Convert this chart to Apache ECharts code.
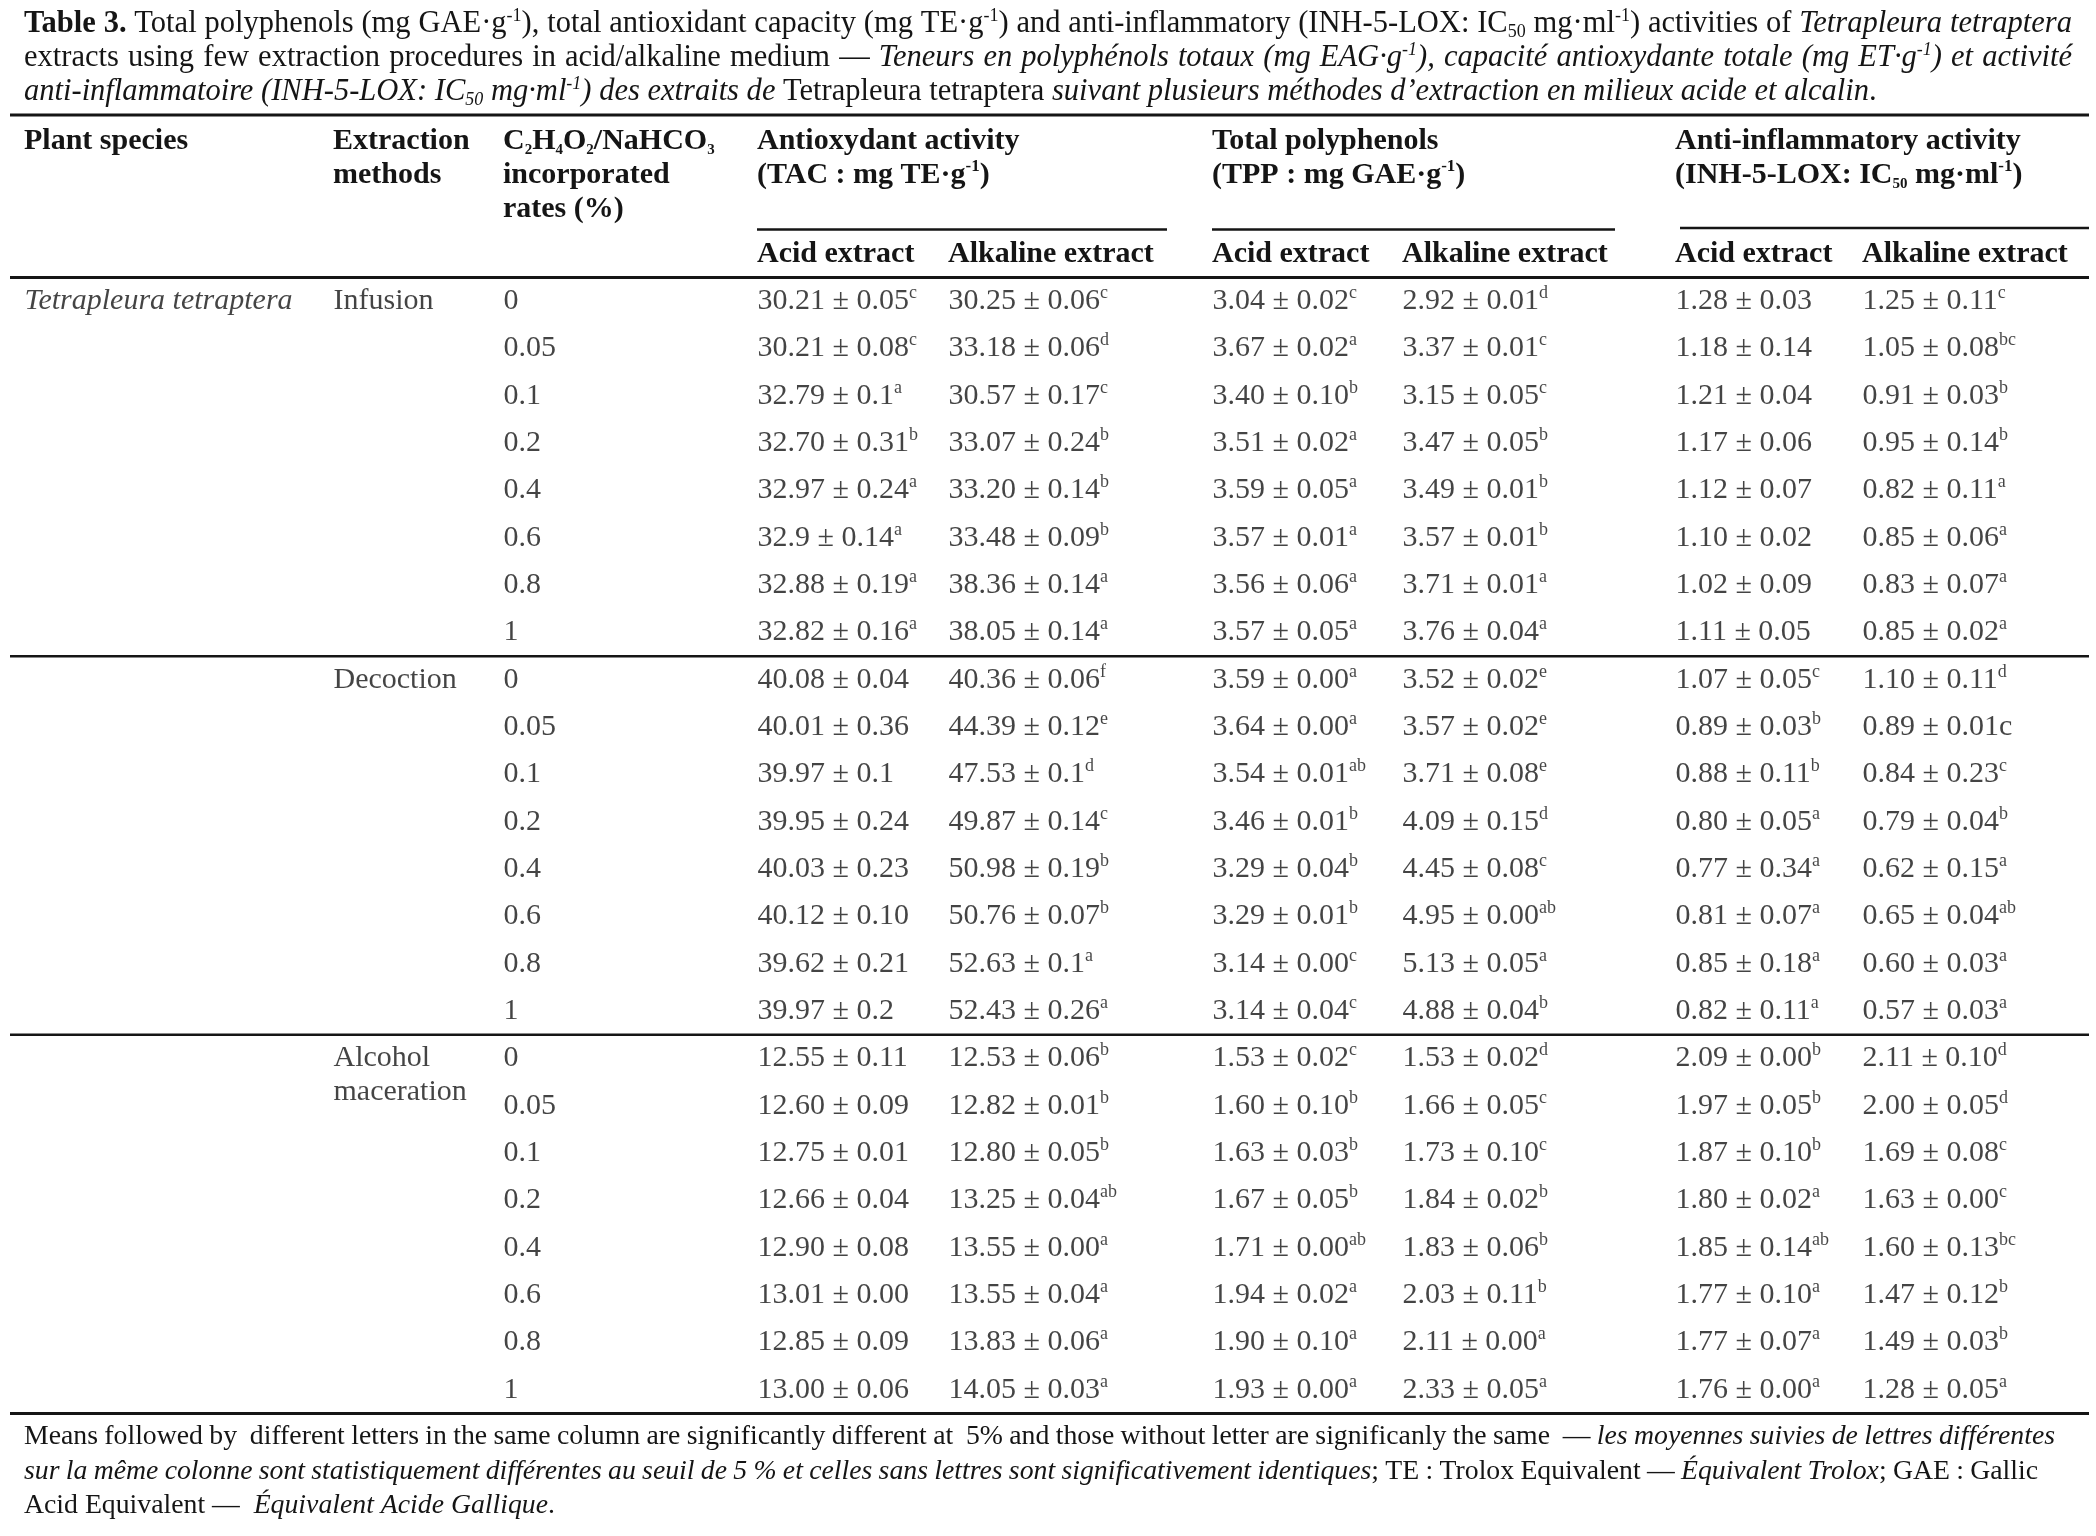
<!DOCTYPE html>
<html><head><meta charset="utf-8">
<script src="https://cdn.jsdelivr.net/npm/echarts@6/dist/echarts.min.js"></script>
<style>html,body{margin:0;padding:0;background:#fff}#c{width:2096px;height:1536px}</style>
</head><body><div id="c"></div>
<script>
// ---------------- DATA ----------------
const species = ['Tetrapleura tetraptera'];
const methods = ['Infusion', 'Decoction', 'Alcohol\nmaceration'];
const rates = ['0', '0.05', '0.1', '0.2', '0.4', '0.6', '0.8', '1'];

const tacAcidMean = ['30.21','30.21','32.79','32.70','32.97','32.9','32.88','32.82','40.08','40.01','39.97','39.95','40.03','40.12','39.62','39.97','12.55','12.60','12.75','12.66','12.90','13.01','12.85','13.00'];
const tacAcidSd   = ['0.05','0.08','0.1','0.31','0.24','0.14','0.19','0.16','0.04','0.36','0.1','0.24','0.23','0.10','0.21','0.2','0.11','0.09','0.01','0.04','0.08','0.00','0.09','0.06'];
const tacAcidSig  = ['c','c','a','b','a','a','a','a','','','','','','','','','','','','','','','',''];

const tacAlkMean = ['30.25','33.18','30.57','33.07','33.20','33.48','38.36','38.05','40.36','44.39','47.53','49.87','50.98','50.76','52.63','52.43','12.53','12.82','12.80','13.25','13.55','13.55','13.83','14.05'];
const tacAlkSd   = ['0.06','0.06','0.17','0.24','0.14','0.09','0.14','0.14','0.06','0.12','0.1','0.14','0.19','0.07','0.1','0.26','0.06','0.01','0.05','0.04','0.00','0.04','0.06','0.03'];
const tacAlkSig  = ['c','d','c','b','b','b','a','a','f','e','d','c','b','b','a','a','b','b','b','ab','a','a','a','a'];

const tppAcidMean = ['3.04','3.67','3.40','3.51','3.59','3.57','3.56','3.57','3.59','3.64','3.54','3.46','3.29','3.29','3.14','3.14','1.53','1.60','1.63','1.67','1.71','1.94','1.90','1.93'];
const tppAcidSd   = ['0.02','0.02','0.10','0.02','0.05','0.01','0.06','0.05','0.00','0.00','0.01','0.01','0.04','0.01','0.00','0.04','0.02','0.10','0.03','0.05','0.00','0.02','0.10','0.00'];
const tppAcidSig  = ['c','a','b','a','a','a','a','a','a','a','ab','b','b','b','c','c','c','b','b','b','ab','a','a','a'];

const tppAlkMean = ['2.92','3.37','3.15','3.47','3.49','3.57','3.71','3.76','3.52','3.57','3.71','4.09','4.45','4.95','5.13','4.88','1.53','1.66','1.73','1.84','1.83','2.03','2.11','2.33'];
const tppAlkSd   = ['0.01','0.01','0.05','0.05','0.01','0.01','0.01','0.04','0.02','0.02','0.08','0.15','0.08','0.00','0.05','0.04','0.02','0.05','0.10','0.02','0.06','0.11','0.00','0.05'];
const tppAlkSig  = ['d','c','c','b','b','b','a','a','e','e','e','d','c','ab','a','b','d','c','c','b','b','b','a','a'];

const inhAcidMean = ['1.28','1.18','1.21','1.17','1.12','1.10','1.02','1.11','1.07','0.89','0.88','0.80','0.77','0.81','0.85','0.82','2.09','1.97','1.87','1.80','1.85','1.77','1.77','1.76'];
const inhAcidSd   = ['0.03','0.14','0.04','0.06','0.07','0.02','0.09','0.05','0.05','0.03','0.11','0.05','0.34','0.07','0.18','0.11','0.00','0.05','0.10','0.02','0.14','0.10','0.07','0.00'];
const inhAcidSig  = ['','','','','','','','','c','b','b','a','a','a','a','a','b','b','b','a','ab','a','a','a'];

const inhAlkMean = ['1.25','1.05','0.91','0.95','0.82','0.85','0.83','0.85','1.10','0.89','0.84','0.79','0.62','0.65','0.60','0.57','2.11','2.00','1.69','1.63','1.60','1.47','1.49','1.28'];
const inhAlkSd   = ['0.11','0.08','0.03','0.14','0.11','0.06','0.07','0.02','0.11','0.01c','0.23','0.04','0.15','0.04','0.03','0.03','0.10','0.05','0.08','0.00','0.13','0.12','0.03','0.05'];
const inhAlkSig  = ['c','bc','b','b','a','a','a','a','d','','c','b','a','ab','a','a','d','d','c','c','bc','b','b','a'];

// header texts
const hdrSpecies = ['Plant species'];
const hdrMethod = ['Extraction', 'methods'];
const hdrRate = [[['b','C'],['bsub','2'],['b','H'],['bsub','4'],['b','O'],['bsub','2'],['b','/NaHCO'],['bsub','3']], [['b','incorporated']], [['b','rates (%)']]];
const hdrGroups = [
  [[['b','Antioxydant activity']], [['b','(TAC : mg TE·g'],['bsup','-1'],['b',')']]],
  [[['b','Total polyphenols']], [['b','(TPP : mg GAE·g'],['bsup','-1'],['b',')']]],
  [[['b','Anti-inflammatory activity']], [['b','(INH-5-LOX: IC'],['bsub','50'],['b',' mg·ml'],['bsup','-1'],['b',')']]]
];
const hdrSub = ['Acid extract', 'Alkaline extract'];

const titleLines = [
  [['b','Table 3.'],['r',' Total polyphenols (mg GAE·g'],['sup','-1'],['r','), total antioxidant capacity (mg TE·g'],['sup','-1'],['r',') and anti-inflammatory (INH-5-LOX: IC'],['sub','50'],['r',' mg·ml'],['sup','-1'],['r',') activities of '],['i','Tetrapleura tetraptera']],
  [['r','extracts using few extraction procedures in acid/alkaline medium — '],['i','Teneurs en polyphénols totaux (mg EAG·g'],['supi','-1'],['i','), capacité antioxydante totale (mg ET·g'],['supi','-1'],['i',') et activité']],
  [['i','anti-inflammatoire (INH-5-LOX: IC'],['subi','50'],['i',' mg·ml'],['supi','-1'],['i',') des extraits de '],['r','Tetrapleura tetraptera'],['i',' suivant plusieurs méthodes d’extraction en milieux acide et alcalin'],['r','.']]
];
const footLines = [
  [['r','Means followed by  different letters in the same column are significantly different at  5% and those without letter are significanly the same  — '],['i','les moyennes suivies de lettres différentes']],
  [['i','sur la même colonne sont statistiquement différentes au seuil de 5 % et celles sans lettres sont significativement identiques'],['r','; TE : Trolox Equivalent — '],['i','Équivalent Trolox'],['r','; GAE : Gallic']],
  [['r','Acid Equivalent —  '],['i','Équivalent Acide Gallique'],['r','.']]
];

// ---------------- LAYOUT / STYLE ----------------
const FF = "'Liberation Serif', 'Times New Roman', serif";
const INK = '#151515';
const GRID_TOP = 277.5, GRID_H = 1136;
const colLeft = [24, 333, 503, 757, 948, 1212, 1402, 1675, 1862];
const RULE_L = 10, RULE_R = 2089;

const mctx = document.createElement('canvas').getContext('2d');
function fontStr(s) { return `${s.fontStyle} ${s.fontWeight} ${s.fontSize}px ${s.fontFamily}`; }
function mw(t, s) { mctx.font = fontStr(s); return mctx.measureText(t).width; }
function zs(size, weight, italic, extra) {
  return Object.assign({fontFamily: FF, fontSize: size, fontWeight: weight || 'normal', fontStyle: italic ? 'italic' : 'normal', fill: INK}, extra || {});
}
function textRich(size) {
  const sp = Math.round(size * 0.58), sb = Math.round(size * 0.6);
  return {
    r: zs(size, 'normal', false, {lineHeight: 34}),
    i: zs(size, 'normal', true, {lineHeight: 34}),
    b: zs(size, 'bold', false, {lineHeight: 34}),
    sup: zs(sp, 'normal', false, {lineHeight: 22, verticalAlign: 'top'}),
    supi: zs(sp, 'normal', true, {lineHeight: 22, verticalAlign: 'top'}),
    sub: zs(sb, 'normal', false, {lineHeight: 16, verticalAlign: 'bottom'}),
    subi: zs(sb, 'normal', true, {lineHeight: 16, verticalAlign: 'bottom'}),
    bsup: zs(17, 'bold', false, {lineHeight: 22, verticalAlign: 'top'}),
    bsub: zs(15, 'bold', false, {lineHeight: 8, verticalAlign: 'bottom'})
  };
}
function buildRich(segs, rich, target) {
  const toks = [];
  segs.forEach(([s, t]) => {
    t.split(' ').forEach((p, k) => {
      if (k > 0) { const last = toks[toks.length - 1]; if (last && last.gap) last.gap++; else toks.push({gap: 1}); }
      if (p) toks.push({s, t: p});
    });
  });
  while (toks.length && toks[0].gap) toks.shift();
  while (toks.length && toks[toks.length - 1].gap) toks.pop();
  let words = 0, gaps = 0;
  toks.forEach(tk => { if (tk.gap) gaps += tk.gap; else words += mw(tk.t, rich[tk.s]); });
  const space = mw(' ', rich.r);
  const gw = (target && gaps) ? (target - words) / gaps : space;
  const r2 = Object.assign({}, rich);
  let str = '';
  toks.forEach(tk => {
    if (tk.gap) {
      const nm = 'g' + tk.gap;
      if (!r2[nm]) r2[nm] = Object.assign({}, rich.r, {width: gw * tk.gap});
      str += '{' + nm + '|\u00a0}';
    } else str += '{' + tk.s + '|' + tk.t + '}';
  });
  return {str, rich: r2, width: words + gaps * gw};
}
function textEl(x, y, built) {
  return {type: 'text', x, y, silent: true, z: 10,
    style: {text: built.str, rich: built.rich, align: 'left', verticalAlign: 'middle', fill: INK, fontFamily: FF, fontSize: 30}};
}

// font sizes fitted to the measured line extents
const tSize = Math.max(26, Math.min(31, 30 * 1853 / buildRich(titleLines[2], textRich(30), null).width));
const fSize = Math.max(24, Math.min(30, 28 * 531 / buildRich(footLines[2], textRich(28), null).width));

// ---------------- CELLS ----------------
function cell(m, s, g) { return '{v|' + m + ' ± ' + s + '}' + (g ? '{s|' + g + '}' : ''); }
const N = rates.length * methods.length;
const rowNames = [];
for (let i = 0; i < N; i++) rowNames.push(methods[Math.floor(i / rates.length)].replace('\n', ' ') + ' ' + rates[i % rates.length]);

const colCells = [
  rowNames.map((_, i) => i === 0 ? '{vi|' + species[0] + '}' : ''),
  rowNames.map((_, i) => i % rates.length === 0 ? '{v|' + methods[i / rates.length].split('\n').join('}\n{v|') + '}' : ''),
  rowNames.map((_, i) => '{v|' + rates[i % rates.length] + '}'),
  tacAcidMean.map((m, i) => cell(m, tacAcidSd[i], tacAcidSig[i])),
  tacAlkMean.map((m, i) => cell(m, tacAlkSd[i], tacAlkSig[i])),
  tppAcidMean.map((m, i) => cell(m, tppAcidSd[i], tppAcidSig[i])),
  tppAlkMean.map((m, i) => cell(m, tppAlkSd[i], tppAlkSig[i])),
  inhAcidMean.map((m, i) => cell(m, inhAcidSd[i], inhAcidSig[i])),
  inhAlkMean.map((m, i) => cell(m, inhAlkSd[i], inhAlkSig[i]))
];

const LRICH = {
  v: {fontFamily: FF, fontSize: 30, lineHeight: 34, color: INK},
  vi: {fontFamily: FF, fontSize: 30, lineHeight: 34, color: INK, fontStyle: 'italic'},
  s: {fontFamily: FF, fontSize: 18, lineHeight: 23, color: INK, verticalAlign: 'top'}
};

const grids = [], xAxes = [], yAxes = [], series = [];
colCells.forEach((cells, gi) => {
  grids.push({left: colLeft[gi], top: GRID_TOP, width: 100, height: GRID_H, containLabel: false});
  xAxes.push({type: 'value', gridIndex: gi, min: 0, max: 1, show: false});
  yAxes.push({type: 'category', gridIndex: gi, data: rowNames, inverse: true, show: false});
  const data = [];
  cells.forEach((c, r) => {
    if (!c) return;
    const nLines = c.split('\n').length;
    data.push({value: [0, r], label: {offset: [0, (nLines - 1) * 17]}});
  });
  series.push({
    type: 'scatter', xAxisIndex: gi, yAxisIndex: gi, symbolSize: 1, clip: false, silent: true,
    itemStyle: {color: 'rgba(0,0,0,0)'}, emphasis: {disabled: true}, animation: false, data,
    label: {show: true, position: 'right', distance: 0,
      formatter: p => cells[p.value[1]], rich: LRICH}
  });
});

const chart = echarts.init(document.getElementById('c'), null, {renderer: 'canvas', width: 2096, height: 1536});
chart.setOption({backgroundColor: '#fff', animation: false, grid: grids, xAxis: xAxes, yAxis: yAxes, series});

// ---------------- TEXT + RULES ----------------
const gfx = [];
const tr = textRich(tSize), fr = textRich(fSize), hr = textRich(30);
const titleY = [24, 58, 92], titleTarget = [2048, 2048, null];
titleLines.forEach((l, k) => gfx.push(textEl(24, titleY[k], buildRich(l, tr, titleTarget[k]))));
const footY = [1437, 1472, 1506], footTarget = [2031, 2014, null];
footLines.forEach((l, k) => gfx.push(textEl(24, footY[k], buildRich(l, fr, footTarget[k]))));

const hY = [141, 175, 209], subY = 254;
gfx.push(textEl(colLeft[0], hY[0], buildRich([['b', hdrSpecies[0]]], hr, null)));
hdrMethod.forEach((t, k) => gfx.push(textEl(colLeft[1], hY[k], buildRich([['b', t]], hr, null))));
hdrRate.forEach((l, k) => gfx.push(textEl(colLeft[2], hY[k], buildRich(l, hr, null))));
hdrGroups.forEach((g, gi) => {
  g.forEach((l, k) => gfx.push(textEl(colLeft[3 + gi * 2], hY[k], buildRich(l, hr, null))));
  hdrSub.forEach((t, k) => gfx.push(textEl(colLeft[3 + gi * 2 + k], subY, buildRich([['b', t]], hr, null))));
});

function rule(x1, x2, y, w) { return {type: 'line', silent: true, z: 5, shape: {x1, y1: y, x2, y2: y}, style: {stroke: INK, lineWidth: w}}; }
gfx.push(rule(RULE_L, RULE_R, 115, 3));
gfx.push(rule(757, 1167, 229.5, 2.5));
gfx.push(rule(1212, 1615, 229.5, 2.5));
gfx.push(rule(1680, RULE_R, 228, 2.5));
const yc = i => chart.convertToPixel({yAxisIndex: 3}, i);
const band = yc(1) - yc(0);
gfx.push(rule(RULE_L, RULE_R, yc(0) - band / 2, 3));
gfx.push(rule(RULE_L, RULE_R, (yc(7) + yc(8)) / 2, 2.5));
gfx.push(rule(RULE_L, RULE_R, (yc(15) + yc(16)) / 2, 2.5));
gfx.push(rule(RULE_L, RULE_R, yc(N - 1) + band / 2, 3));

chart.setOption({graphic: {elements: gfx}});
</script></body></html>
